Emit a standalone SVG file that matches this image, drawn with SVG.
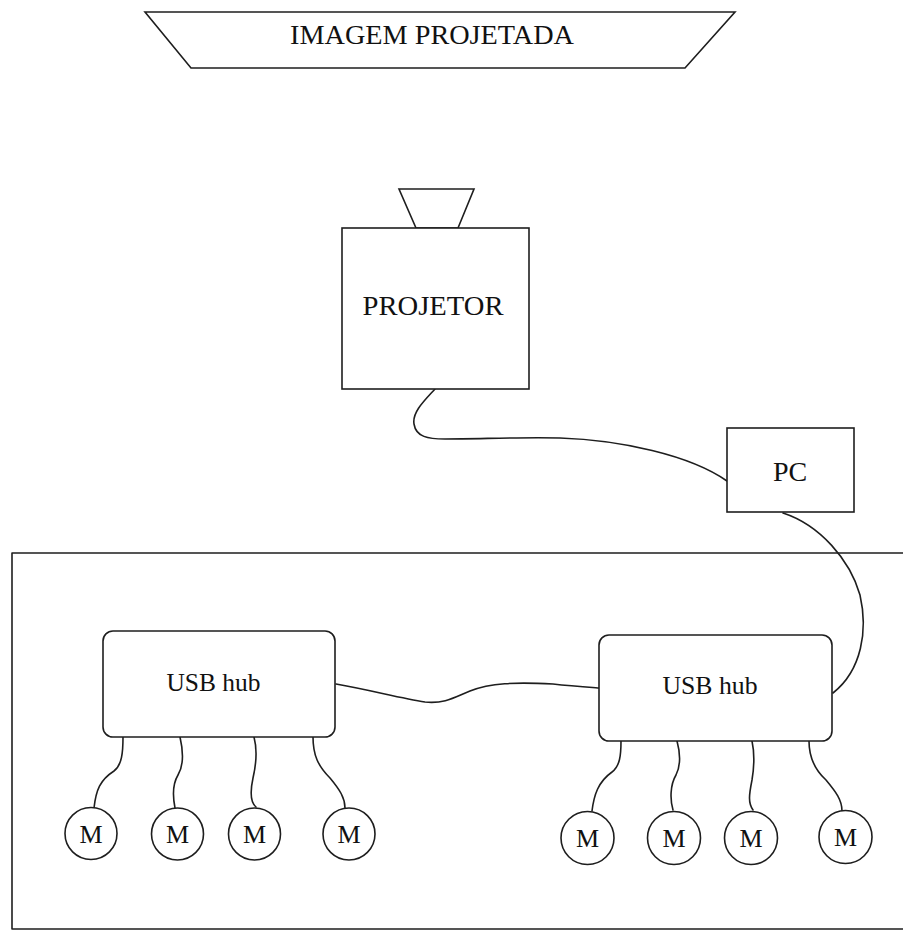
<svg xmlns="http://www.w3.org/2000/svg" width="903" height="931" viewBox="0 0 903 931">
<style>
.s{fill:none;stroke:#1e1e1e;stroke-width:1.6;stroke-linejoin:round;stroke-linecap:round}
.b{fill:#ffffff;stroke:#1e1e1e;stroke-width:1.6}
.t{font-family:"Liberation Serif","Times New Roman",serif;fill:#111;text-anchor:middle}
.lg{font-size:28px}
.md{font-size:26px}
.sm{font-size:26px}
</style>
<rect x="0" y="0" width="903" height="931" fill="#ffffff"/>
<g id="frame">
<path class="s" d="M903,553 H12 V929 H903"/>
</g>
<g id="screen">
<polygon class="b" points="145,12 735,12 685,68 191,68"/>
<text class="t lg" x="432" y="44" textLength="284" lengthAdjust="spacingAndGlyphs">IMAGEM PROJETADA</text>
</g>
<g id="connectors">
<path class="s" d="M435,389 C425,400 412,412 414,424 C416,437 428,439 445,439 C480,439 520,437 560,438 C620,440 690,455 727,481"/>
<path class="s" d="M783,513 C820,525 850,560 860,595 C868,630 862,670 833,693"/>
<path class="s" d="M336,684 C370,690 400,698 425,702 C445,704 455,697 470,691 C490,683 515,682 553,684 C570,686 585,687 599,688"/>
<path class="s" d="M123,737 C123,752 122,765 114,771 C100,780 96,790 94,808"/>
<path class="s" d="M180,737 C183,750 184,765 178,775 C172,785 173,798 175,808"/>
<path class="s" d="M254,737 C258,752 256,765 253,778 C250,792 250,802 256,807"/>
<path class="s" d="M313,737 C313,755 318,766 330,778 C340,790 345,798 345,808"/>
<path class="s" d="M621,741 C621,755 620,766 612,772 C598,782 594,795 592,811"/>
<path class="s" d="M677,741 C680,752 681,765 676,775 C670,785 670,800 673,810"/>
<path class="s" d="M752,741 C755,755 754,768 752,780 C749,795 748,803 753,810"/>
<path class="s" d="M809,741 C809,758 815,770 826,780 C836,792 842,800 842,811"/>
</g>
<g id="projector">
<polygon class="b" points="399,189 474,189 458,228 416,228"/>
<rect class="b" x="342" y="228" width="187" height="161"/>
<text class="t lg" x="433" y="315" textLength="141" lengthAdjust="spacingAndGlyphs">PROJETOR</text>
</g>
<g id="pc">
<rect class="b" x="727" y="428" width="127" height="84"/>
<text class="t lg" x="790" y="481">PC</text>
</g>
<g id="hub-left">
<rect class="b" x="103" y="631" width="232" height="106" rx="10"/>
<text class="t md" x="213.5" y="691" textLength="94" lengthAdjust="spacingAndGlyphs">USB hub</text>
</g>
<g id="hub-right">
<rect class="b" x="599" y="635" width="233" height="106" rx="10"/>
<text class="t md" x="710" y="694" textLength="95" lengthAdjust="spacingAndGlyphs">USB hub</text>
</g>
<g id="m-l1"><circle class="b" cx="91" cy="833.5" r="26"/><text class="t sm" x="91" y="843">M</text></g>
<g id="m-l2"><circle class="b" cx="177.5" cy="834" r="26"/><text class="t sm" x="177.5" y="843">M</text></g>
<g id="m-l3"><circle class="b" cx="254.5" cy="834" r="26"/><text class="t sm" x="254.5" y="843">M</text></g>
<g id="m-l4"><circle class="b" cx="349" cy="834" r="26"/><text class="t sm" x="349" y="843">M</text></g>
<g id="m-r1"><circle class="b" cx="587.5" cy="838" r="26.5"/><text class="t sm" x="587.5" y="847">M</text></g>
<g id="m-r2"><circle class="b" cx="674" cy="838" r="26.5"/><text class="t sm" x="674" y="847">M</text></g>
<g id="m-r3"><circle class="b" cx="751" cy="838" r="26.5"/><text class="t sm" x="751" y="847">M</text></g>
<g id="m-r4"><circle class="b" cx="845.5" cy="837" r="26.5"/><text class="t sm" x="845.5" y="846">M</text></g>
</svg>
